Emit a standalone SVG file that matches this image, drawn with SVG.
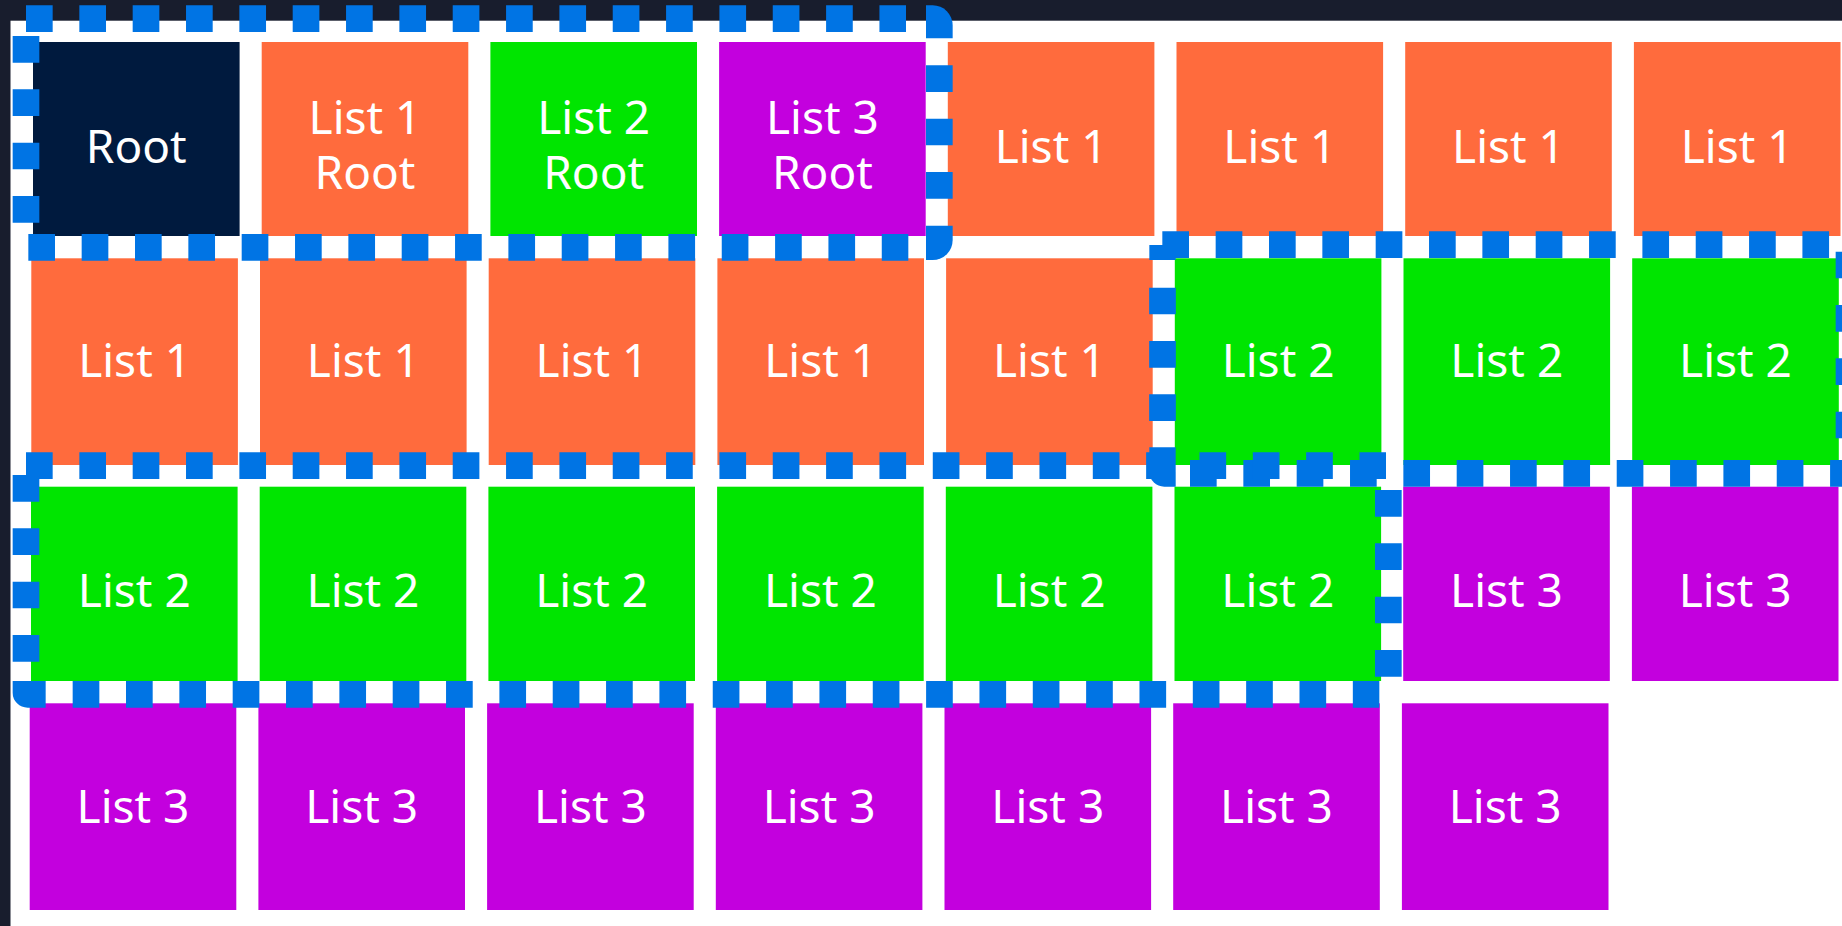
<svg xmlns="http://www.w3.org/2000/svg" width="1842" height="926" viewBox="0 0 1842 926">
<style>
.bg{fill:#181d2d}
.root{fill:#001a3e}
.l1{fill:#ff6b3d}
.l2{fill:#00e500}
.l3{fill:#c300de}
text{font-family:"Noto Sans","Open Sans",sans-serif;font-size:46px;fill:#ffffff;text-anchor:middle}
.dash{stroke:#0074e4;stroke-width:26.67;stroke-dasharray:26.67 26.67;fill:none;stroke-linecap:butt}
.corner{fill:#0074e4}
</style>
<rect class="bg" x="0" y="0" width="1842" height="926"/>
<rect x="10.5" y="20.7" width="1831.5" height="905.3" fill="#ffffff"/>

<g id="r1c0"><rect class="root" x="33" y="42" width="206.6" height="194"/><text x="136.3" y="163.3">Root</text></g>
<g id="r1c1"><rect class="l1" x="261.7" y="42" width="206.6" height="194"/><text x="365" y="134">List 1<tspan x="365" y="189.3">Root</tspan></text></g>
<g id="r1c2"><rect class="l2" x="490.4" y="42" width="206.6" height="194"/><text x="593.7" y="134">List 2<tspan x="593.7" y="189.3">Root</tspan></text></g>
<g id="r1c3"><rect class="l3" x="719.1" y="42" width="206.6" height="194"/><text x="822.4" y="134">List 3<tspan x="822.4" y="189.3">Root</tspan></text></g>
<g id="r1c4"><rect class="l1" x="947.8" y="42" width="206.6" height="194"/><text x="1051.1" y="163.3">List 1</text></g>
<g id="r1c5"><rect class="l1" x="1176.5" y="42" width="206.6" height="194"/><text x="1279.8" y="163.3">List 1</text></g>
<g id="r1c6"><rect class="l1" x="1405.2" y="42" width="206.6" height="194"/><text x="1508.5" y="163.3">List 1</text></g>
<g id="r1c7"><rect class="l1" x="1633.9" y="42" width="206.6" height="194"/><text x="1737.2" y="163.3">List 1</text></g>

<g id="r2c0"><rect class="l1" x="31.3" y="258.3" width="206.6" height="206.7"/><text x="134.6" y="377.3">List 1</text></g>
<g id="r2c1"><rect class="l1" x="260" y="258.3" width="206.6" height="206.7"/><text x="363.3" y="377.3">List 1</text></g>
<g id="r2c2"><rect class="l1" x="488.7" y="258.3" width="206.6" height="206.7"/><text x="592" y="377.3">List 1</text></g>
<g id="r2c3"><rect class="l1" x="717.4" y="258.3" width="206.6" height="206.7"/><text x="820.7" y="377.3">List 1</text></g>
<g id="r2c4"><rect class="l1" x="946.1" y="258.3" width="206.6" height="206.7"/><text x="1049.4" y="377.3">List 1</text></g>
<g id="r2c5"><rect class="l2" x="1174.8" y="258.3" width="206.6" height="206.7"/><text x="1278.1" y="377.3">List 2</text></g>
<g id="r2c6"><rect class="l2" x="1403.5" y="258.3" width="206.6" height="206.7"/><text x="1506.8" y="377.3">List 2</text></g>
<g id="r2c7"><rect class="l2" x="1632.2" y="258.3" width="206.6" height="206.7"/><text x="1735.5" y="377.3">List 2</text></g>

<g id="r3c0"><rect class="l2" x="31" y="486.7" width="206.6" height="194.3"/><text x="134.3" y="606.7">List 2</text></g>
<g id="r3c1"><rect class="l2" x="259.7" y="486.7" width="206.6" height="194.3"/><text x="363" y="606.7">List 2</text></g>
<g id="r3c2"><rect class="l2" x="488.4" y="486.7" width="206.6" height="194.3"/><text x="591.7" y="606.7">List 2</text></g>
<g id="r3c3"><rect class="l2" x="717.1" y="486.7" width="206.6" height="194.3"/><text x="820.4" y="606.7">List 2</text></g>
<g id="r3c4"><rect class="l2" x="945.8" y="486.7" width="206.6" height="194.3"/><text x="1049.1" y="606.7">List 2</text></g>
<g id="r3c5"><rect class="l2" x="1174.5" y="486.7" width="206.6" height="194.3"/><text x="1277.8" y="606.7">List 2</text></g>
<g id="r3c6"><rect class="l3" x="1403.2" y="486.7" width="206.6" height="194.3"/><text x="1506.5" y="606.7">List 3</text></g>
<g id="r3c7"><rect class="l3" x="1631.9" y="486.7" width="206.6" height="194.3"/><text x="1735.2" y="606.7">List 3</text></g>

<g id="r4c0"><rect class="l3" x="29.7" y="703.3" width="206.6" height="206.7"/><text x="133" y="822.7">List 3</text></g>
<g id="r4c1"><rect class="l3" x="258.4" y="703.3" width="206.6" height="206.7"/><text x="361.7" y="822.7">List 3</text></g>
<g id="r4c2"><rect class="l3" x="487.1" y="703.3" width="206.6" height="206.7"/><text x="590.4" y="822.7">List 3</text></g>
<g id="r4c3"><rect class="l3" x="715.8" y="703.3" width="206.6" height="206.7"/><text x="819.1" y="822.7">List 3</text></g>
<g id="r4c4"><rect class="l3" x="944.5" y="703.3" width="206.6" height="206.7"/><text x="1047.8" y="822.7">List 3</text></g>
<g id="r4c5"><rect class="l3" x="1173.2" y="703.3" width="206.6" height="206.7"/><text x="1276.5" y="822.7">List 3</text></g>
<g id="r4c6"><rect class="l3" x="1401.9" y="703.3" width="206.6" height="206.7"/><text x="1505.2" y="822.7">List 3</text></g>

<g id="outlines">
  <g id="root-group-outline">
    <line class="dash" x1="26" y1="18.67" x2="906" y2="18.67"/>
    <line class="dash" x1="939.33" y1="65.33" x2="939.33" y2="198.67"/>
    <line class="dash" x1="28.33" y1="247.33" x2="908.33" y2="247.33"/>
    <line class="dash" x1="26" y1="36" x2="26" y2="222.67"/>
    <path class="corner" d="M926,5.33 H932.7 A20,20 0 0 1 952.67,25.33 V38.33 H926 Z"/>
    <path class="corner" d="M926,225.67 H952.67 V240 A20,20 0 0 1 932.67,260 H926 Z"/>
  </g>
  <g id="list2-outline-line1">
    <line class="dash" x1="1162.33" y1="244.67" x2="1842" y2="244.67"/>
    <rect class="corner" x="1149.33" y="245" width="26.33" height="15"/>
    <line class="dash" x1="1162.5" y1="287.67" x2="1162.5" y2="421"/>
    <path class="corner" d="M1149.33,447.33 H1175.67 V486.67 H1164.33 A15,15 0 0 1 1149.33,471.67 Z"/>
    <line class="dash" x1="1190" y1="473.33" x2="1842" y2="473.33"/>
    <line class="dash" x1="1849" y1="251.67" x2="1849" y2="438.33"/>
  </g>
  <g id="list2-outline-line2">
    <line class="dash" x1="26" y1="465.67" x2="1386" y2="465.67"/>
    <line class="dash" x1="26" y1="475" x2="26" y2="661.67"/>
    <path class="corner" d="M12.67,681 H45.67 V707.67 H27.67 A15,15 0 0 1 12.67,692.67 Z"/>
    <line class="dash" x1="72.67" y1="694.33" x2="1379.33" y2="694.33"/>
    <line class="dash" x1="1388.33" y1="490" x2="1388.33" y2="676.67"/>
  </g>
</g>
</svg>
